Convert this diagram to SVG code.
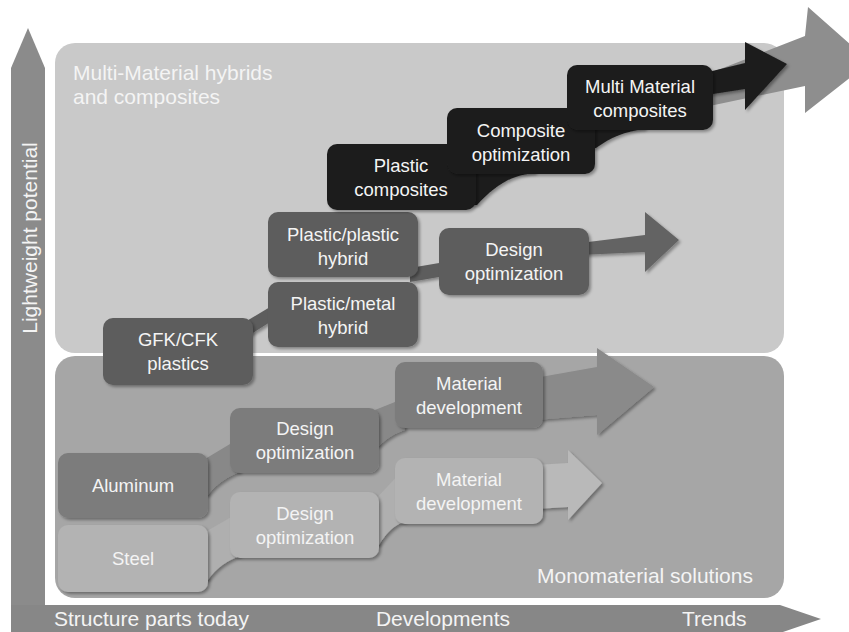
<svg xmlns="http://www.w3.org/2000/svg" width="849" height="632" viewBox="0 0 849 632">
<defs>
<style>
.lbl{font-family:"Liberation Sans",Arial,sans-serif;font-size:21px;fill:#f4f4f4}
.nt{font-family:"Liberation Sans",Arial,sans-serif;font-size:18.5px;fill:#f4f4f4;text-anchor:middle}
.dk{fill:#5d5d5d}
.bk{fill:#1c1c1c}
.al{fill:#7c7c7c}
.st{fill:#b3b3b3}
</style>
<filter id="sh" x="-10%" y="-10%" width="130%" height="140%">
<feDropShadow dx="2" dy="2" stdDeviation="1.5" flood-color="#000" flood-opacity="0.35"/>
</filter>
</defs>
<rect width="849" height="632" fill="#ffffff"/>
<g id="panels">
<rect x="55" y="43" width="729" height="310" rx="20" fill="#c9c9c9"/>
<rect x="55" y="356" width="729" height="242" rx="20" fill="#a6a6a6"/>
<text class="lbl" x="73" y="80">Multi-Material hybrids</text>
<text class="lbl" x="73" y="104">and composites</text>
<text class="lbl" x="537" y="583">Monomaterial solutions</text>
</g>
<g id="axes">
<polygon points="11,632 11,68 28,28 45,68 45,632" fill="#8b8b8b"/>
<polygon points="11,605 780,605 821,619 780,633 11,633" fill="#878787"/>
<text class="lbl" transform="translate(37,238) rotate(-90)" text-anchor="middle">Lightweight potential</text>
<text class="lbl" x="54" y="626">Structure parts today</text>
<text class="lbl" x="443" y="626" text-anchor="middle">Developments</text>
<text class="lbl" x="682" y="626">Trends</text>
</g>
<g id="connectors">
<polygon points="700,77 805,36 808,7 870,62 805,113 805,86 700,108" fill="#8e8e8e"/>
<polygon points="700,74 745,63 745,42 787,64 745,110 745,89 700,96" fill="#1c1c1c" filter="url(#sh)"/>
<path d="M465,165 L535,165 L535,173 C508,175 492,189 477,205 L465,205 Z" fill="#1c1c1c" filter="url(#sh)"/>
<path d="M585,120 L645,120 L645,129 C625,131 610,138 596,148 L585,148 Z" fill="#1c1c1c" filter="url(#sh)"/>
<polygon points="245,322 275,304 275,319 245,338" fill="#5d5d5d" filter="url(#sh)"/>
<polygon points="410,268 445,262 445,276 410,282" fill="#5d5d5d" filter="url(#sh)"/>
<polygon points="580,243 645,235 645,212 679,240 645,272 645,252 580,255" fill="#636363" filter="url(#sh)"/>
<path d="M200,462 L240,438 L240,472 C228,476 216,484 208,495 L200,495 Z" fill="#888888" filter="url(#sh)"/>
<path d="M370,412 L405,398 L405,430 C395,433 387,438 379,446 L370,446 Z" fill="#888888" filter="url(#sh)"/>
<polygon points="535,378 597,367 597,348 654,387 597,435 597,415 535,420" fill="#8a8a8a" filter="url(#sh)"/>
<path d="M200,535 L240,512 L240,556 C228,560 216,568 208,580 L200,580 Z" fill="#afafaf" filter="url(#sh)"/>
<path d="M370,505 L405,468 L405,522 C395,524 386,533 379,545 L370,545 Z" fill="#afafaf" filter="url(#sh)"/>
<polygon points="535,465 568,463 568,450 602,483 568,520 568,507 535,509" fill="#b9b9b9" filter="url(#sh)"/>
</g>
<g id="gfk"><rect class="dk" x="103" y="318" width="150" height="67" rx="10" filter="url(#sh)"/><text class="nt" x="178" y="346">GFK/CFK</text><text class="nt" x="178" y="370">plastics</text></g>
<g id="pmetal"><rect class="dk" x="268" y="282" width="150" height="65" rx="10" filter="url(#sh)"/><text class="nt" x="343" y="310">Plastic/metal</text><text class="nt" x="343" y="334">hybrid</text></g>
<g id="pplastic"><rect class="dk" x="268" y="212" width="150" height="65" rx="10" filter="url(#sh)"/><text class="nt" x="343" y="241">Plastic/plastic</text><text class="nt" x="343" y="265">hybrid</text></g>
<g id="designup"><rect class="dk" x="439" y="228" width="150" height="67" rx="10" filter="url(#sh)"/><text class="nt" x="514" y="256">Design</text><text class="nt" x="514" y="280">optimization</text></g>
<g id="pcomp"><rect class="bk" x="327" y="144" width="149" height="66" rx="10" filter="url(#sh)"/><text class="nt" x="401" y="172">Plastic</text><text class="nt" x="401" y="196">composites</text></g>
<g id="compopt"><rect class="bk" x="447" y="108" width="148" height="66" rx="10" filter="url(#sh)"/><text class="nt" x="521" y="137">Composite</text><text class="nt" x="521" y="161">optimization</text></g>
<g id="mmcomp"><rect class="bk" x="567" y="65" width="146" height="65" rx="10" filter="url(#sh)"/><text class="nt" x="640" y="93">Multi Material</text><text class="nt" x="640" y="117">composites</text></g>
<g id="aluminum"><rect class="al" x="58" y="453" width="150" height="65" rx="10" filter="url(#sh)"/><text class="nt" x="133" y="492">Aluminum</text></g>
<g id="designal"><rect class="al" x="230" y="408" width="149" height="65" rx="10" filter="url(#sh)"/><text class="nt" x="305" y="435">Design</text><text class="nt" x="305" y="459">optimization</text></g>
<g id="matdeval"><rect class="al" x="395" y="362" width="148" height="66" rx="10" filter="url(#sh)"/><text class="nt" x="469" y="390">Material</text><text class="nt" x="469" y="414">development</text></g>
<g id="steel"><rect class="st" x="58" y="525" width="150" height="67" rx="10" filter="url(#sh)"/><text class="nt" x="133" y="565">Steel</text></g>
<g id="designst"><rect class="st" x="230" y="492" width="149" height="66" rx="10" filter="url(#sh)"/><text class="nt" x="305" y="520">Design</text><text class="nt" x="305" y="544">optimization</text></g>
<g id="matdevst"><rect class="st" x="395" y="458" width="148" height="66" rx="10" filter="url(#sh)"/><text class="nt" x="469" y="486">Material</text><text class="nt" x="469" y="510">development</text></g>
</svg>
